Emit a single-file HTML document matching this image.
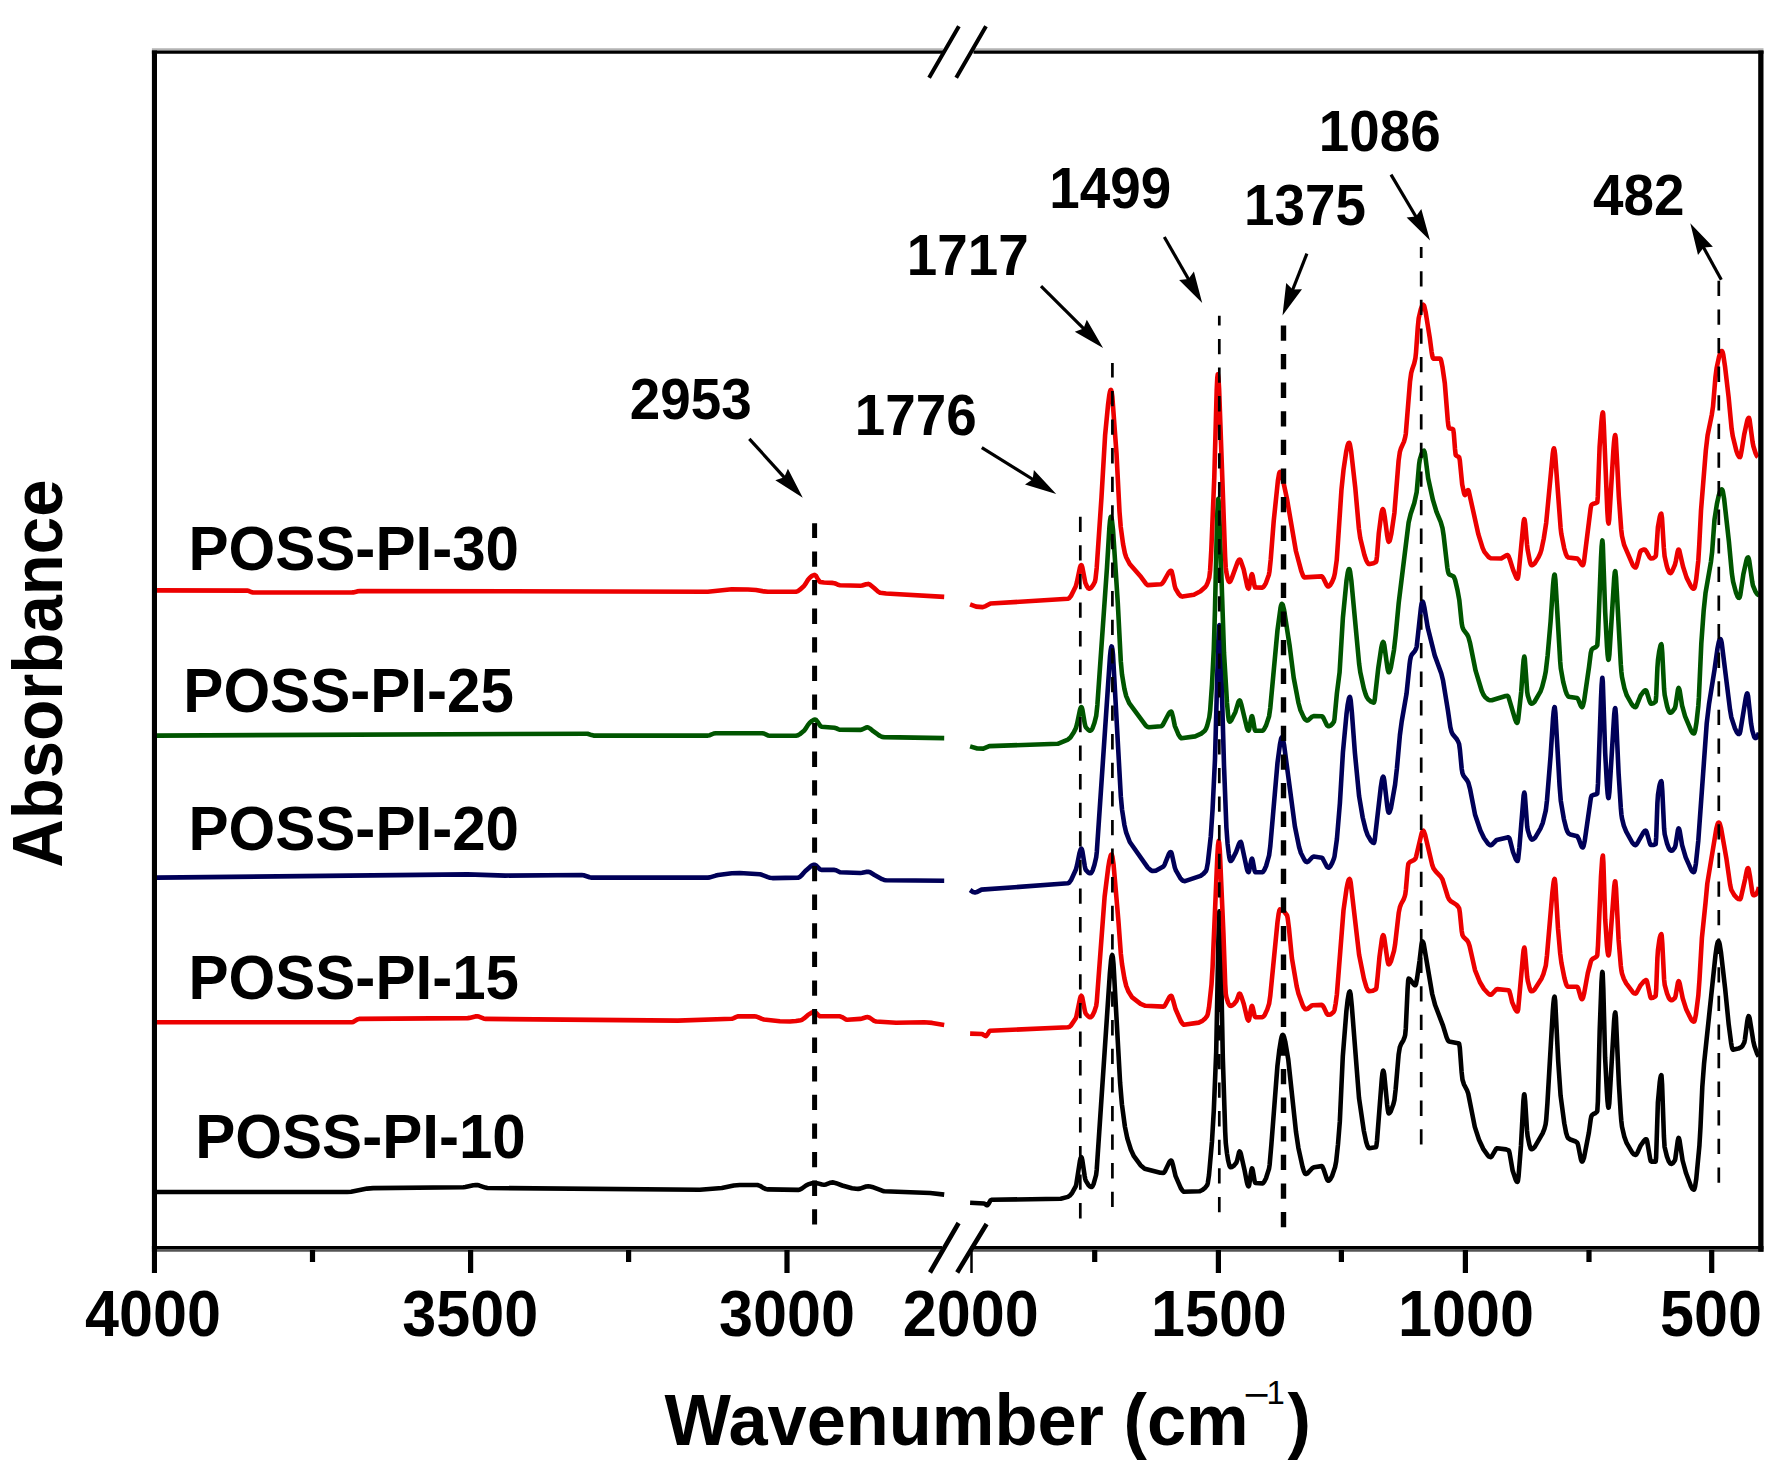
<!DOCTYPE html>
<html lang="en">
<head>
<meta charset="utf-8">
<title>FTIR spectra of POSS-PI films</title>
<style>
html,body{margin:0;padding:0;background:#fff;}
body{width:1781px;height:1477px;overflow:hidden;}
svg{display:block;}
</style>
</head>
<body>
<svg width="1781" height="1477" viewBox="0 0 1781 1477">
<rect x="0" y="0" width="1781" height="1477" fill="#ffffff"/>
<g id="curves">
<polyline points="156.8,1192.0 347.1,1192.0 351.1,1191.7 367.2,1188.6 373.2,1188.1 463.3,1187.3 465.3,1187.0 473.4,1185.2 475.8,1185.0 477.4,1185.1 479.4,1185.6 485.4,1187.6 487.4,1188.0 699.8,1189.8 721.8,1188.0 733.8,1185.5 739.8,1185.0 757.0,1185.0 757.9,1185.1 759.9,1185.8 763.9,1188.2 765.9,1189.1 767.9,1189.4 798.3,1189.9 799.9,1189.6 801.9,1188.5 806.0,1185.5 808.0,1184.4 812.0,1183.3 814.0,1183.0 816.0,1183.0 818.0,1183.4 822.0,1184.5 824.1,1184.8 826.0,1184.4 830.0,1182.8 832.0,1182.4 834.0,1182.6 836.0,1183.2 842.2,1185.5 852.0,1188.2 856.0,1188.8 858.0,1188.9 860.1,1188.6 866.1,1186.5 868.1,1186.3 870.1,1186.5 872.1,1186.9 882.1,1190.7 884.1,1191.2 930.2,1193.0 944.2,1194.6" fill="none" stroke="#000000" stroke-width="4.60" stroke-linejoin="round" stroke-linecap="butt"/>
<polyline points="970.1,1202.8 984.0,1203.5 985.1,1204.1 986.3,1205.1 987.0,1205.3 987.5,1205.1 988.7,1203.5 990.5,1200.4 991.4,1199.8 1060.7,1198.8 1067.9,1196.9 1069.7,1195.7 1072.1,1192.9 1075.7,1186.3 1076.3,1184.3 1079.9,1161.0 1080.5,1158.5 1081.1,1157.3 1081.3,1157.2 1081.7,1157.7 1082.3,1160.0 1084.7,1176.2 1085.3,1179.3 1085.9,1180.9 1088.3,1184.8 1090.1,1186.6 1091.4,1187.0 1091.9,1186.8 1092.5,1186.2 1093.7,1183.7 1096.1,1175.0 1096.7,1170.0 1109.9,972.9 1111.1,959.8 1111.7,956.2 1112.3,955.0 1112.9,957.6 1113.5,964.0 1120.1,1082.8 1121.9,1104.2 1124.9,1126.6 1127.3,1138.2 1130.9,1149.7 1133.9,1156.2 1140.5,1165.2 1144.7,1168.7 1160.3,1172.8 1163.3,1172.9 1163.9,1172.7 1165.1,1171.1 1169.4,1162.1 1170.0,1161.2 1170.6,1160.7 1171.2,1160.5 1171.8,1161.2 1173.0,1165.2 1175.6,1176.2 1180.8,1188.1 1182.6,1190.8 1183.8,1191.8 1199.4,1191.3 1202.4,1190.0 1205.4,1187.4 1207.2,1185.1 1207.8,1183.2 1209.0,1175.1 1212.0,1141.2 1213.8,1110.7 1216.2,1052.1 1218.6,929.1 1219.2,912.8 1219.4,911.2 1219.8,914.7 1220.4,933.2 1222.8,1057.2 1225.2,1131.9 1225.8,1143.3 1227.0,1153.5 1228.2,1160.8 1229.4,1165.5 1230.0,1166.8 1230.6,1167.3 1231.8,1167.1 1233.6,1165.9 1236.3,1162.8 1237.2,1160.2 1239.0,1152.5 1239.6,1151.5 1240.2,1152.0 1240.8,1153.6 1244.4,1169.4 1246.8,1181.9 1247.4,1184.2 1248.0,1185.8 1248.6,1186.4 1249.2,1185.0 1251.0,1172.3 1251.6,1169.2 1252.0,1168.4 1252.2,1168.5 1252.8,1170.4 1254.6,1181.1 1255.3,1183.0 1262.4,1183.4 1263.0,1183.1 1264.2,1181.8 1266.0,1178.2 1269.0,1168.8 1269.6,1165.0 1271.4,1144.4 1277.4,1066.3 1279.2,1050.9 1281.0,1039.7 1281.6,1037.0 1282.2,1035.3 1282.8,1034.8 1283.4,1035.4 1284.0,1036.8 1285.2,1041.5 1288.2,1059.1 1296.0,1131.9 1298.4,1147.9 1302.6,1167.0 1303.8,1170.9 1305.0,1173.4 1305.6,1173.9 1306.2,1174.0 1307.4,1173.4 1312.2,1168.2 1314.0,1167.2 1321.8,1166.1 1322.4,1166.7 1323.6,1169.2 1326.6,1178.3 1327.2,1179.6 1327.8,1180.5 1328.4,1180.7 1329.0,1180.5 1330.2,1179.4 1332.0,1176.2 1335.1,1167.0 1336.2,1161.2 1338.0,1144.3 1339.8,1121.9 1342.8,1056.4 1346.4,1011.0 1347.6,1000.4 1348.8,993.5 1349.4,991.8 1349.8,991.5 1350.0,991.7 1350.6,994.1 1351.8,1005.9 1359.0,1097.9 1363.8,1130.6 1366.2,1142.0 1367.4,1145.7 1368.0,1147.0 1368.6,1147.9 1369.3,1148.2 1375.2,1147.3 1376.0,1147.0 1376.4,1145.8 1377.0,1141.0 1381.8,1078.9 1382.4,1073.6 1383.0,1070.9 1383.2,1070.7 1383.6,1071.3 1384.2,1074.3 1387.2,1105.0 1387.8,1109.8 1388.4,1112.8 1388.8,1113.4 1389.6,1113.0 1390.8,1111.3 1393.2,1104.8 1394.4,1100.2 1395.6,1089.7 1398.6,1054.7 1399.8,1047.4 1401.0,1044.2 1403.4,1040.2 1404.6,1037.1 1405.2,1034.8 1405.8,1028.2 1407.6,989.2 1408.2,980.5 1408.6,978.6 1409.4,978.9 1411.2,980.9 1413.6,984.2 1414.8,985.2 1415.4,985.3 1416.0,984.0 1417.2,977.5 1419.6,960.5 1421.4,945.3 1422.0,942.3 1422.5,941.5 1423.2,942.4 1423.8,944.3 1432.2,994.0 1435.2,1005.3 1443.0,1025.6 1446.6,1037.4 1447.8,1040.1 1448.4,1041.0 1449.0,1041.5 1458.0,1043.2 1459.1,1043.7 1459.8,1047.6 1461.6,1071.9 1462.5,1079.7 1464.0,1084.5 1467.0,1090.3 1468.2,1093.5 1474.8,1126.9 1479.0,1139.8 1483.2,1148.8 1488.0,1155.6 1489.2,1156.7 1490.6,1157.2 1491.0,1157.1 1491.6,1156.6 1495.8,1149.3 1496.4,1148.6 1497.3,1148.2 1506.0,1149.4 1508.6,1150.4 1509.0,1151.0 1509.6,1153.1 1512.6,1170.5 1515.6,1179.5 1516.2,1180.7 1516.8,1181.6 1517.5,1181.9 1518.0,1180.4 1518.6,1175.9 1521.0,1145.2 1523.4,1100.7 1524.0,1094.9 1524.3,1094.3 1524.6,1095.4 1525.2,1101.4 1527.0,1130.5 1527.6,1136.0 1529.4,1144.8 1530.6,1148.4 1531.2,1149.2 1531.8,1149.3 1533.0,1148.7 1534.8,1146.8 1542.6,1133.4 1544.4,1128.8 1545.6,1124.4 1546.2,1119.9 1547.4,1103.5 1552.8,1011.1 1553.4,1003.4 1554.0,998.3 1554.6,996.6 1555.2,1000.8 1558.2,1061.1 1560.6,1095.8 1564.3,1123.4 1566.1,1132.7 1567.3,1136.6 1568.1,1138.0 1570.3,1139.5 1575.7,1141.5 1577.1,1142.6 1577.5,1143.2 1578.1,1145.1 1580.5,1157.4 1581.1,1159.9 1581.7,1161.4 1582.0,1161.6 1582.3,1161.5 1582.9,1160.8 1584.1,1157.4 1588.9,1132.5 1590.7,1119.4 1591.3,1116.5 1591.9,1115.2 1593.1,1114.2 1595.5,1113.1 1596.7,1112.1 1597.3,1111.1 1597.9,1101.1 1599.7,1030.4 1601.5,981.9 1602.1,973.3 1602.4,971.9 1602.7,973.7 1603.3,988.5 1605.1,1057.2 1606.9,1092.2 1607.5,1101.0 1608.1,1106.4 1608.5,1107.7 1608.7,1107.5 1609.3,1103.1 1614.1,1021.0 1614.7,1014.4 1615.3,1012.4 1615.9,1017.3 1618.9,1084.1 1620.7,1113.3 1621.3,1120.8 1622.0,1126.8 1624.3,1136.6 1626.7,1143.2 1632.1,1152.4 1633.9,1154.3 1635.4,1154.9 1636.3,1154.4 1637.5,1152.5 1640.5,1145.8 1644.1,1140.6 1645.3,1139.5 1646.2,1139.2 1646.5,1139.4 1647.1,1141.0 1650.1,1158.7 1650.7,1160.9 1651.3,1161.6 1655.7,1161.6 1656.1,1157.7 1657.9,1102.1 1659.7,1082.6 1660.3,1078.3 1660.9,1075.8 1661.3,1075.2 1661.5,1075.7 1662.1,1084.5 1663.9,1136.0 1664.6,1147.0 1666.9,1156.4 1668.7,1161.2 1669.9,1163.0 1670.5,1163.6 1671.7,1163.9 1672.9,1163.1 1674.8,1160.5 1675.3,1158.9 1677.7,1141.0 1678.3,1138.4 1678.6,1138.0 1678.9,1138.2 1679.5,1140.1 1682.6,1160.5 1686.1,1173.3 1690.9,1186.1 1692.1,1188.3 1692.7,1189.1 1693.3,1189.6 1693.9,1189.7 1694.5,1188.7 1695.1,1186.5 1696.3,1178.6 1699.4,1145.8 1700.5,1127.0 1702.3,1087.2 1704.1,1063.2 1715.5,955.0 1716.7,946.6 1717.3,943.7 1717.9,941.8 1718.5,941.3 1719.1,942.2 1719.7,944.4 1720.9,951.8 1725.1,988.3 1728.7,1024.4 1731.1,1042.8 1731.7,1046.2 1732.3,1048.6 1733.0,1049.7 1738.3,1048.6 1741.3,1047.2 1742.5,1045.9 1744.3,1042.5 1744.9,1039.6 1747.3,1021.1 1747.9,1017.8 1748.6,1016.2 1749.1,1016.7 1749.7,1018.5 1753.3,1041.2 1754.5,1046.3 1756.9,1053.1 1758.1,1055.5 1758.7,1056.4" fill="none" stroke="#000000" stroke-width="4.60" stroke-linejoin="round" stroke-linecap="butt"/>
<polyline points="156.8,1022.3 351.5,1022.3 353.1,1021.9 357.2,1019.5 359.2,1018.9 467.7,1018.1 469.4,1017.9 475.4,1016.4 477.4,1016.3 479.4,1016.8 483.4,1018.4 485.8,1018.9 677.7,1020.6 731.8,1018.8 733.8,1018.1 735.8,1017.2 737.8,1016.4 754.4,1016.3 755.9,1016.5 757.9,1017.1 761.9,1018.9 763.9,1019.5 779.9,1021.2 789.9,1021.5 795.9,1021.0 800.9,1020.2 801.9,1019.8 804.0,1018.4 808.0,1014.9 812.0,1012.5 814.3,1011.9 816.0,1012.8 818.0,1014.9 820.0,1016.3 840.0,1016.3 842.0,1017.1 846.0,1019.4 847.4,1019.7 860.3,1018.9 862.1,1018.5 866.1,1017.3 867.5,1017.1 868.1,1017.2 870.1,1018.0 874.1,1020.9 876.1,1021.5 896.1,1022.7 924.2,1022.3 932.2,1022.9 944.2,1024.9" fill="none" stroke="#ec0000" stroke-width="4.60" stroke-linejoin="round" stroke-linecap="butt"/>
<polyline points="970.1,1033.6 982.1,1034.0 985.1,1035.9 985.8,1036.1 986.3,1035.9 987.5,1034.4 989.3,1031.4 989.9,1030.8 1067.9,1027.3 1069.2,1026.9 1071.0,1025.4 1075.8,1018.2 1076.4,1016.5 1080.0,998.6 1080.6,996.7 1081.3,995.8 1081.8,996.3 1082.4,998.1 1084.8,1010.6 1085.4,1012.9 1086.0,1014.0 1088.4,1016.5 1089.6,1017.1 1090.8,1017.1 1091.4,1016.8 1092.6,1015.3 1094.4,1011.5 1096.2,1005.9 1096.8,1001.4 1104.6,896.9 1108.2,867.7 1109.4,860.5 1110.6,855.7 1111.2,854.7 1111.5,854.5 1111.8,854.7 1112.4,856.6 1113.6,864.9 1118.4,920.6 1120.8,953.4 1122.0,964.0 1124.4,978.4 1126.2,985.9 1128.6,991.8 1132.2,997.4 1140.6,1003.9 1145.4,1005.8 1163.4,1006.6 1164.0,1006.4 1165.2,1005.0 1169.4,997.1 1170.6,995.9 1171.2,995.8 1171.8,996.5 1173.0,999.9 1175.6,1009.3 1180.8,1021.1 1182.6,1023.8 1183.8,1024.8 1198.8,1022.6 1202.4,1020.9 1205.4,1018.2 1207.2,1015.8 1207.8,1014.0 1209.0,1007.4 1211.5,984.6 1212.6,967.0 1217.4,855.2 1218.0,845.3 1218.7,840.9 1219.2,843.1 1219.8,850.3 1223.4,932.9 1225.2,983.8 1225.8,993.8 1226.4,997.2 1228.2,1003.0 1229.4,1005.2 1230.0,1005.7 1230.6,1005.9 1231.8,1005.6 1234.2,1003.8 1236.6,1000.8 1239.0,994.1 1239.6,993.6 1240.2,994.0 1241.4,996.6 1243.8,1004.0 1246.8,1016.8 1247.4,1018.8 1248.0,1020.1 1248.6,1020.5 1249.2,1019.1 1251.0,1008.7 1251.6,1006.3 1252.0,1005.9 1252.2,1006.1 1252.8,1007.7 1254.6,1016.0 1255.3,1017.2 1262.4,1017.2 1263.6,1016.4 1264.8,1014.8 1267.3,1009.4 1269.1,1003.8 1270.3,995.6 1277.5,922.0 1278.7,913.4 1279.3,910.7 1280.0,909.4 1281.7,909.8 1283.5,910.9 1286.8,915.0 1287.1,915.6 1287.7,918.2 1288.9,927.7 1291.9,958.2 1296.7,986.4 1298.5,993.8 1302.7,1005.3 1303.9,1007.6 1305.1,1009.0 1305.9,1009.3 1307.5,1008.8 1312.3,1005.2 1321.9,1004.9 1322.5,1005.3 1323.7,1007.1 1326.7,1013.4 1327.3,1014.3 1327.9,1014.8 1329.1,1014.8 1330.9,1014.2 1333.3,1012.2 1333.9,1011.5 1334.5,1010.0 1335.7,1003.3 1336.9,994.3 1343.5,910.3 1346.5,889.0 1347.7,883.0 1348.3,880.8 1348.9,879.5 1349.5,879.0 1350.1,879.9 1350.7,882.5 1359.1,954.8 1363.9,978.6 1366.3,986.9 1367.5,989.6 1368.1,990.5 1368.7,991.1 1369.3,991.3 1372.9,990.7 1376.0,989.1 1376.5,987.4 1377.7,976.0 1379.5,956.8 1381.9,939.1 1382.5,936.4 1383.2,935.2 1383.7,935.9 1384.3,938.2 1387.3,959.3 1387.9,962.4 1388.5,964.2 1388.8,964.4 1389.1,964.3 1389.7,963.8 1390.9,961.5 1394.0,950.9 1395.1,944.4 1398.7,912.9 1399.9,907.1 1401.1,904.0 1403.5,899.7 1404.7,896.5 1405.3,894.2 1405.9,889.5 1407.7,868.5 1408.3,864.1 1408.6,863.3 1410.1,861.8 1413.7,860.2 1415.3,858.8 1416.1,856.8 1421.5,833.8 1422.1,832.1 1422.7,831.0 1423.3,830.7 1423.9,831.4 1425.1,834.8 1432.3,865.2 1433.5,868.3 1435.9,871.7 1440.7,876.6 1442.5,879.5 1447.9,897.0 1449.1,899.4 1450.9,901.3 1456.3,904.6 1458.1,906.6 1459.1,908.2 1459.3,909.0 1459.9,912.9 1461.7,931.1 1462.5,935.2 1463.6,937.1 1467.2,940.5 1468.4,942.4 1469.6,945.9 1475.0,970.1 1479.8,982.0 1484.0,989.0 1488.2,993.5 1489.4,994.4 1490.6,994.7 1491.8,994.3 1496.0,989.7 1497.3,989.1 1508.6,990.2 1509.2,990.8 1510.4,994.7 1512.2,1002.4 1515.2,1009.2 1516.4,1010.9 1517.0,1011.4 1517.6,1011.5 1518.2,1009.3 1523.0,955.5 1523.6,950.1 1524.3,947.5 1524.8,949.1 1527.2,977.2 1527.8,980.9 1529.6,988.0 1530.2,989.7 1530.8,990.8 1531.5,991.3 1532.6,991.1 1534.4,989.7 1541.6,978.4 1543.4,974.2 1545.8,965.7 1547.0,955.3 1552.4,892.2 1553.6,882.2 1554.2,879.6 1554.6,879.0 1554.8,879.3 1555.4,884.2 1558.0,928.4 1560.2,953.5 1561.4,962.7 1564.4,978.0 1566.2,984.3 1566.8,985.6 1567.4,986.4 1568.1,986.8 1577.1,986.8 1577.6,987.2 1578.2,988.4 1580.6,996.8 1581.2,998.3 1581.8,999.1 1582.0,999.2 1582.4,999.0 1583.0,997.8 1584.2,993.2 1587.8,973.2 1590.8,961.6 1591.6,959.9 1592.6,958.9 1595.6,957.3 1596.8,956.2 1597.3,955.4 1598.0,945.3 1601.0,876.3 1602.2,858.8 1602.9,855.5 1603.4,862.7 1605.2,919.2 1607.0,946.0 1607.6,951.9 1608.2,955.0 1608.5,955.4 1608.8,954.7 1609.4,950.5 1614.2,886.6 1614.8,882.2 1615.2,881.3 1615.4,881.9 1616.0,888.1 1618.6,939.7 1620.8,965.7 1621.4,970.5 1622.0,973.5 1623.8,978.8 1626.2,983.4 1632.8,992.2 1634.0,993.2 1635.4,993.6 1635.8,993.5 1636.4,993.0 1640.6,985.2 1644.2,981.1 1645.4,980.3 1646.2,980.1 1646.6,980.5 1647.2,982.1 1650.2,996.4 1650.8,997.8 1651.2,998.1 1653.2,997.7 1655.0,996.5 1655.7,995.8 1656.2,989.3 1657.4,958.1 1658.0,949.7 1659.2,941.0 1659.8,937.7 1660.5,935.4 1661.1,934.2 1661.3,934.1 1661.7,935.5 1662.3,943.4 1664.1,979.2 1664.7,984.8 1667.1,993.7 1668.9,998.0 1670.1,999.6 1670.7,1000.1 1671.4,1000.3 1672.5,1000.0 1674.9,998.0 1675.5,996.3 1677.9,982.7 1678.5,981.3 1678.6,981.2 1679.1,981.7 1679.7,983.4 1682.7,998.3 1686.3,1009.6 1691.1,1019.3 1692.3,1020.9 1693.5,1021.7 1694.1,1021.6 1694.7,1020.4 1695.9,1014.8 1698.3,995.8 1699.5,979.3 1701.9,938.0 1705.5,903.0 1707.3,883.5 1716.3,828.9 1717.5,824.3 1718.1,823.0 1718.7,822.5 1719.3,822.9 1719.9,824.1 1721.1,828.4 1726.5,859.2 1730.1,884.5 1731.3,889.9 1734.3,895.1 1736.7,897.8 1738.5,899.0 1739.9,899.3 1740.3,899.0 1740.9,897.8 1745.1,879.2 1746.9,870.3 1747.5,868.6 1748.1,868.1 1748.7,869.3 1749.9,875.8 1752.3,892.3 1752.9,894.5 1753.5,895.2 1754.7,895.1 1755.9,894.4 1757.1,892.7 1758.3,889.5 1758.9,887.1" fill="none" stroke="#ec0000" stroke-width="4.60" stroke-linejoin="round" stroke-linecap="butt"/>
<polyline points="156.8,877.6 467.4,874.4 505.4,875.6 581.6,875.0 583.6,875.3 589.6,877.3 591.7,877.6 707.9,877.6 709.8,877.4 715.8,875.6 718.2,875.0 731.8,873.3 739.8,873.0 759.9,874.3 761.9,874.8 767.9,877.1 769.9,877.7 772.5,878.1 798.3,877.6 799.9,876.9 801.9,875.0 804.0,872.5 806.0,870.4 810.0,866.9 812.0,865.4 814.0,864.7 814.3,864.7 816.0,865.4 820.0,869.3 821.5,869.9 834.4,869.9 836.0,870.3 840.0,872.3 860.3,873.0 862.1,872.8 866.1,871.9 868.1,871.7 870.1,872.3 874.5,875.0 882.1,879.2 884.1,879.9 886.1,880.2 944.2,880.7" fill="none" stroke="#000058" stroke-width="4.60" stroke-linejoin="round" stroke-linecap="butt"/>
<polyline points="970.1,890.0 973.1,892.1 975.0,892.5 976.7,892.1 981.5,889.6 1067.9,883.3 1069.2,882.6 1071.0,880.2 1075.8,869.8 1077.0,865.4 1079.4,853.5 1080.6,849.4 1081.3,848.6 1081.8,849.2 1082.4,851.3 1084.8,866.2 1085.4,868.9 1086.0,870.1 1088.4,872.6 1089.6,873.2 1090.3,873.3 1090.8,873.2 1091.4,872.7 1092.6,870.5 1094.4,865.0 1096.2,857.2 1096.8,852.0 1110.0,656.5 1110.6,650.7 1111.2,647.3 1111.6,646.5 1111.8,646.6 1112.4,649.3 1113.0,654.8 1120.8,796.2 1122.0,809.3 1124.4,824.9 1126.2,832.7 1129.8,842.0 1147.8,867.6 1150.8,870.3 1152.6,871.0 1156.2,870.6 1163.4,866.5 1164.6,864.7 1168.8,854.1 1170.0,852.3 1170.7,852.0 1171.2,852.4 1171.8,853.9 1174.8,867.5 1176.0,870.7 1180.2,877.9 1182.0,880.0 1183.2,880.8 1185.0,881.2 1200.6,875.8 1203.6,873.6 1206.0,870.9 1206.6,869.3 1207.8,862.9 1210.8,836.2 1212.6,808.9 1215.0,759.2 1218.0,649.2 1218.6,633.4 1219.2,625.6 1219.4,625.1 1219.8,627.6 1220.4,638.5 1224.0,765.5 1226.4,827.6 1227.6,843.9 1228.8,854.0 1229.4,857.8 1230.0,860.2 1230.6,861.0 1231.2,860.8 1232.4,859.3 1236.0,852.1 1239.0,843.9 1239.6,842.8 1240.2,842.1 1240.8,841.9 1241.4,843.2 1246.8,868.5 1247.4,870.5 1248.0,871.8 1248.6,872.2 1249.2,870.9 1251.0,861.3 1251.6,859.1 1252.0,858.7 1252.2,858.9 1252.8,860.9 1254.6,870.8 1255.3,872.2 1262.4,872.1 1263.0,871.8 1264.2,870.2 1266.1,866.0 1269.1,855.4 1270.3,846.1 1277.5,762.7 1279.9,744.8 1281.1,738.7 1281.8,737.4 1282.3,737.8 1282.9,739.3 1284.1,745.0 1294.9,826.5 1299.1,847.0 1300.9,853.0 1304.5,860.0 1305.7,861.5 1306.3,861.9 1307.0,862.1 1308.1,861.7 1312.3,857.2 1313.7,856.5 1321.9,857.7 1322.5,858.2 1326.7,866.3 1327.3,867.1 1327.9,867.6 1328.5,867.7 1329.1,867.5 1330.3,866.4 1332.1,863.2 1333.9,858.7 1334.5,856.5 1336.9,839.1 1339.9,803.1 1342.9,752.6 1346.5,714.1 1347.7,704.6 1348.9,698.5 1349.5,697.2 1349.8,697.0 1350.1,697.4 1350.7,700.3 1351.9,712.8 1354.9,752.9 1359.1,796.2 1362.7,817.5 1365.7,829.8 1367.5,834.8 1371.1,841.0 1372.3,842.3 1373.8,843.0 1374.1,842.7 1374.7,840.2 1380.7,787.9 1381.9,780.2 1382.5,777.8 1383.2,776.7 1383.7,777.5 1384.3,780.4 1387.3,806.4 1387.9,810.3 1388.5,812.4 1388.8,812.7 1389.1,812.6 1389.7,811.8 1390.9,808.3 1395.1,784.5 1396.9,768.5 1399.9,735.1 1401.7,721.5 1406.5,693.9 1409.5,664.9 1410.1,660.3 1410.9,656.6 1411.9,654.4 1414.9,650.9 1416.1,648.6 1416.7,646.6 1420.9,608.1 1421.5,604.2 1422.1,601.9 1422.5,601.5 1422.7,601.6 1423.3,602.8 1424.5,608.1 1427.7,627.4 1434.7,655.4 1441.3,673.5 1443.1,680.8 1447.9,710.3 1450.3,727.0 1451.5,731.7 1452.7,734.2 1456.9,739.3 1458.1,741.5 1459.1,744.0 1459.9,749.6 1461.7,768.8 1462.5,773.4 1463.6,775.8 1467.2,780.5 1468.4,782.9 1470.2,789.7 1475.0,814.4 1480.4,830.6 1484.0,838.0 1488.2,843.8 1489.4,844.8 1490.6,845.2 1491.8,844.8 1496.6,840.0 1507.4,837.4 1508.6,837.4 1509.2,837.9 1509.8,839.4 1513.0,852.0 1515.8,859.1 1516.4,860.1 1517.0,860.8 1517.6,861.0 1518.2,858.8 1519.4,847.4 1523.6,795.6 1524.3,792.5 1524.8,794.4 1527.2,826.6 1527.8,830.2 1529.6,836.1 1530.8,838.6 1531.4,839.3 1532.1,839.6 1533.2,839.3 1535.0,837.8 1540.4,828.7 1542.8,822.8 1545.8,810.4 1547.0,800.3 1550.6,755.7 1553.0,718.8 1553.6,712.1 1554.2,708.0 1554.6,707.1 1554.8,707.5 1555.4,712.7 1559.6,786.1 1560.8,800.8 1563.8,818.7 1566.2,828.4 1567.4,831.6 1568.6,833.5 1570.4,834.5 1576.4,835.9 1577.1,836.2 1577.6,836.7 1578.8,839.1 1581.2,845.7 1581.8,846.8 1582.4,847.4 1582.7,847.5 1583.0,847.3 1583.6,846.0 1584.8,840.4 1590.8,798.2 1591.6,795.8 1593.2,795.0 1596.2,794.3 1597.3,793.6 1598.0,783.4 1601.0,698.7 1601.6,685.4 1602.2,678.3 1602.4,677.9 1602.8,681.6 1605.2,753.2 1607.0,785.9 1607.6,793.4 1608.2,797.6 1608.5,798.1 1608.8,797.3 1609.4,792.0 1614.2,714.4 1614.8,709.2 1615.2,708.2 1615.4,708.8 1616.0,715.5 1618.6,773.4 1620.8,807.7 1621.4,814.3 1622.0,818.4 1623.8,825.6 1626.2,831.7 1632.2,842.5 1634.0,844.6 1635.4,845.2 1635.8,845.1 1636.4,844.6 1638.2,841.7 1643.6,832.2 1644.8,830.9 1645.6,830.6 1646.0,830.9 1646.6,831.9 1649.6,842.4 1650.2,844.1 1650.8,845.0 1653.2,845.0 1655.7,844.1 1656.2,837.2 1657.4,803.2 1658.0,794.7 1659.2,787.0 1659.8,784.2 1660.5,782.3 1661.1,781.3 1661.3,781.2 1661.7,782.7 1662.3,790.9 1664.1,828.3 1664.7,834.2 1667.1,843.7 1668.9,848.3 1670.1,850.1 1670.7,850.6 1671.4,850.8 1672.5,850.4 1674.3,848.3 1674.9,847.4 1675.5,845.3 1677.9,830.1 1678.5,828.5 1678.6,828.4 1679.1,828.9 1679.7,830.9 1682.1,845.1 1685.7,857.4 1691.1,869.6 1692.3,871.3 1692.9,871.9 1693.8,872.2 1694.1,872.0 1694.7,870.5 1695.9,863.6 1698.3,840.7 1706.7,723.6 1709.1,703.6 1714.5,669.8 1717.5,648.4 1718.7,642.4 1719.3,640.4 1719.9,639.2 1720.3,639.0 1720.5,639.1 1721.1,640.3 1721.7,642.8 1730.1,710.2 1731.3,717.2 1734.9,728.3 1736.7,732.0 1737.9,733.6 1738.5,734.0 1739.1,734.1 1739.7,733.4 1740.3,731.3 1745.7,698.4 1746.3,695.4 1746.9,693.7 1747.2,693.4 1747.5,693.7 1748.1,696.1 1751.1,723.7 1752.3,730.7 1754.1,736.6 1754.7,737.7 1755.3,738.1 1755.9,738.0 1756.5,737.7 1757.1,737.0 1758.3,734.6 1758.9,732.7" fill="none" stroke="#000058" stroke-width="4.60" stroke-linejoin="round" stroke-linecap="butt"/>
<polyline points="156.8,735.6 586.5,733.7 587.6,733.8 591.6,735.1 593.6,735.6 707.9,735.6 709.8,735.2 713.8,733.5 715.8,733.2 762.1,733.2 763.9,733.5 767.9,735.4 769.9,735.8 795.9,735.8 797.9,735.3 799.9,734.1 804.0,730.8 806.0,728.1 808.0,724.9 810.0,722.5 812.0,720.9 814.0,719.7 815.1,719.5 816.0,719.9 818.0,722.5 820.0,725.6 821.5,726.8 834.4,727.8 836.0,728.2 838.0,729.1 840.0,729.8 860.3,729.9 862.1,729.5 866.1,727.6 867.5,727.3 868.1,727.4 870.1,728.6 873.2,731.2 878.1,734.7 880.1,736.0 882.1,736.9 884.1,737.1 944.2,738.1" fill="none" stroke="#005500" stroke-width="4.60" stroke-linejoin="round" stroke-linecap="butt"/>
<polyline points="970.1,746.4 977.3,748.5 983.3,748.6 989.3,746.1 1057.7,743.8 1067.9,739.6 1070.4,737.4 1074.0,731.9 1075.8,728.3 1077.0,724.1 1080.0,709.7 1080.6,707.9 1081.3,707.1 1081.8,707.6 1082.4,709.7 1084.8,723.8 1085.4,726.3 1086.0,727.5 1088.4,730.0 1089.6,730.6 1090.3,730.7 1090.8,730.6 1091.4,730.1 1092.6,728.1 1094.4,723.0 1096.2,715.9 1097.4,704.7 1107.0,567.3 1109.4,527.5 1110.0,521.0 1110.6,517.4 1110.9,516.8 1111.2,517.1 1111.8,519.3 1113.0,529.7 1117.8,603.1 1120.8,661.4 1122.0,674.4 1124.4,688.9 1126.2,696.1 1129.2,703.2 1146.0,725.8 1147.2,726.8 1149.0,727.3 1161.0,726.2 1161.6,726.0 1162.8,724.8 1168.8,713.5 1170.0,712.1 1170.6,711.7 1171.2,711.6 1171.8,712.5 1173.0,717.0 1174.8,725.8 1178.4,734.4 1180.2,737.2 1181.4,738.3 1195.2,736.4 1201.2,733.6 1204.8,730.7 1206.0,728.8 1207.2,725.7 1209.3,717.2 1210.2,710.1 1212.0,684.4 1213.8,649.3 1215.0,608.9 1216.8,530.2 1217.4,510.9 1218.0,500.2 1218.3,498.9 1218.6,500.4 1219.2,510.3 1224.0,653.0 1227.0,702.9 1228.2,716.1 1228.8,720.1 1229.5,721.7 1230.0,721.6 1231.2,720.4 1235.4,711.9 1238.4,702.0 1239.0,700.8 1239.6,700.4 1240.2,701.0 1241.4,704.7 1246.8,727.2 1247.4,729.1 1248.0,730.3 1248.6,730.7 1249.2,729.3 1251.0,718.9 1251.6,716.5 1252.0,716.1 1252.2,716.3 1252.8,718.5 1254.6,729.2 1255.3,730.7 1262.4,730.7 1263.0,730.4 1264.2,729.0 1266.1,725.4 1269.1,716.2 1270.3,707.8 1277.5,630.0 1280.5,608.1 1281.1,605.3 1281.7,603.9 1281.8,603.8 1282.3,604.1 1282.9,605.3 1284.1,610.1 1289.5,644.8 1293.7,677.8 1298.5,703.0 1300.3,709.7 1303.9,717.6 1305.1,719.3 1306.3,720.4 1307.0,720.6 1308.1,720.3 1312.3,716.6 1313.7,716.1 1321.9,716.2 1322.5,716.6 1323.7,718.4 1326.7,724.7 1327.3,725.6 1327.9,726.1 1329.1,726.1 1330.9,725.3 1332.7,723.5 1333.9,721.7 1334.5,718.9 1336.9,693.2 1339.6,672.3 1342.9,617.7 1346.5,580.7 1347.7,572.8 1348.3,570.3 1348.9,569.1 1349.1,569.0 1349.5,569.4 1350.1,571.6 1351.3,580.2 1359.1,663.6 1360.3,672.3 1363.9,688.7 1365.7,694.5 1366.9,697.3 1368.2,699.2 1371.1,701.7 1372.9,702.5 1373.8,702.6 1374.1,702.3 1374.7,699.9 1378.3,667.8 1381.3,647.7 1381.9,644.9 1382.5,642.9 1383.2,642.0 1383.7,642.7 1384.3,645.1 1387.3,667.0 1387.9,670.3 1388.5,672.1 1388.8,672.3 1389.1,672.2 1389.7,671.3 1390.9,667.3 1394.0,649.8 1395.7,634.8 1398.7,603.0 1408.6,522.6 1410.7,513.8 1414.3,503.1 1416.7,491.9 1419.1,464.3 1419.8,459.7 1421.5,454.1 1422.7,451.6 1423.3,450.9 1423.9,450.7 1424.5,451.8 1425.1,454.5 1428.1,478.0 1432.9,499.9 1436.5,511.8 1440.7,521.9 1442.5,528.1 1443.7,535.9 1447.3,567.3 1447.9,570.9 1448.5,573.3 1449.1,574.3 1452.7,576.0 1453.5,576.5 1453.9,577.0 1455.1,579.9 1457.5,590.1 1459.3,600.1 1461.7,623.2 1462.5,627.4 1463.6,629.8 1467.2,634.6 1468.4,637.0 1470.2,643.7 1475.6,670.7 1481.6,690.5 1483.4,694.6 1485.2,697.2 1488.2,699.6 1490.0,700.3 1491.8,700.3 1505.6,696.0 1507.4,695.9 1508.0,696.2 1508.6,697.3 1515.2,719.5 1516.4,722.3 1517.1,722.8 1517.6,722.1 1518.2,719.3 1521.2,692.0 1523.0,666.6 1523.6,659.9 1524.3,656.6 1524.8,658.6 1527.2,691.9 1527.8,695.5 1529.6,701.2 1530.2,702.5 1530.8,703.3 1531.5,703.7 1532.6,703.4 1534.4,702.0 1540.4,691.7 1542.2,686.8 1544.6,677.4 1545.8,671.2 1547.6,655.7 1550.6,621.4 1553.0,586.0 1553.6,579.4 1554.2,575.4 1554.6,574.6 1554.8,575.0 1555.4,579.9 1560.2,661.5 1560.8,668.4 1563.2,681.9 1565.6,691.0 1566.8,694.1 1568.0,696.1 1568.6,696.7 1577.1,698.1 1577.6,698.5 1578.8,700.8 1580.6,705.4 1581.2,706.5 1582.0,707.1 1582.4,706.8 1583.0,705.5 1584.2,700.4 1589.0,667.1 1590.8,652.8 1591.6,649.8 1592.6,648.6 1595.6,647.2 1596.8,646.1 1597.3,645.3 1598.0,635.1 1601.0,558.1 1601.6,546.8 1602.2,540.9 1602.4,540.5 1602.8,544.0 1605.2,612.3 1607.0,646.7 1607.6,654.8 1608.2,659.4 1608.5,659.9 1608.8,659.2 1609.4,654.4 1614.2,577.9 1614.8,572.3 1615.2,571.2 1615.4,571.7 1616.0,577.2 1620.8,664.4 1621.4,672.0 1622.0,677.0 1624.4,688.3 1626.8,695.4 1631.6,704.0 1633.4,706.2 1634.6,707.0 1635.4,707.1 1635.8,706.9 1636.4,706.2 1640.6,695.6 1643.6,691.5 1644.8,690.5 1645.6,690.3 1646.0,690.5 1646.6,691.5 1649.6,701.2 1650.2,702.7 1650.8,703.5 1651.4,703.7 1653.2,703.3 1655.0,702.1 1655.7,701.5 1656.2,695.7 1657.4,667.8 1658.0,659.9 1659.2,651.2 1660.5,645.5 1661.1,644.3 1661.3,644.2 1661.7,645.6 1662.3,653.3 1664.1,689.0 1664.7,695.1 1667.1,706.3 1668.3,710.0 1668.9,711.3 1669.5,712.2 1670.3,712.7 1671.3,712.5 1672.5,711.5 1674.9,708.1 1675.5,705.8 1677.9,689.8 1678.5,688.1 1678.6,688.0 1679.1,688.6 1679.7,690.7 1682.1,705.7 1685.1,716.4 1691.1,730.7 1692.3,732.5 1692.9,733.1 1693.8,733.5 1694.1,733.4 1694.7,732.2 1695.3,729.9 1696.5,722.4 1698.3,706.0 1698.9,697.4 1701.3,643.6 1703.7,610.4 1705.5,593.2 1710.9,562.1 1712.1,552.3 1714.5,519.5 1716.9,504.1 1718.7,495.8 1719.9,491.9 1720.5,490.5 1721.1,489.7 1721.8,489.3 1722.3,489.8 1722.9,491.6 1724.1,498.6 1728.9,541.5 1731.9,573.7 1733.1,581.7 1736.1,593.0 1737.3,596.0 1737.9,597.0 1738.5,597.7 1739.1,597.9 1739.7,597.1 1740.3,594.8 1743.3,574.6 1746.3,560.9 1746.9,558.9 1747.5,557.7 1748.1,557.3 1748.7,558.5 1749.3,561.1 1752.3,582.2 1752.9,585.4 1755.3,591.2 1757.1,594.1 1758.3,595.1 1758.9,595.2" fill="none" stroke="#005500" stroke-width="4.60" stroke-linejoin="round" stroke-linecap="butt"/>
<polyline points="156.8,590.4 247.0,590.6 249.0,591.1 251.0,592.0 253.0,592.5 351.5,592.5 353.1,592.4 357.2,591.4 360.0,591.0 707.8,591.7 731.8,589.2 747.9,589.5 755.9,590.0 763.9,591.4 767.9,591.7 795.9,591.7 797.9,591.1 799.9,589.7 804.0,586.0 806.0,583.1 808.0,579.8 810.0,577.5 812.0,575.9 814.0,575.0 814.6,574.9 816.0,575.9 818.0,579.5 820.0,582.0 824.0,582.5 832.0,582.9 834.4,583.2 836.0,583.7 838.0,584.8 840.0,585.2 860.3,585.7 862.1,585.5 866.1,584.2 868.1,583.9 870.1,584.7 874.1,588.0 878.1,591.6 880.1,592.8 886.1,593.5 944.2,596.9" fill="none" stroke="#ec0000" stroke-width="4.60" stroke-linejoin="round" stroke-linecap="butt"/>
<polyline points="970.1,604.4 976.1,606.6 982.7,607.1 985.7,606.1 990.5,603.5 1067.9,598.8 1069.1,598.2 1070.9,596.1 1075.7,586.5 1076.9,582.2 1079.9,567.8 1080.5,566.0 1081.1,565.2 1081.3,565.1 1081.7,565.5 1082.3,567.2 1085.3,582.8 1087.1,586.7 1088.3,588.3 1089.1,588.7 1090.1,588.5 1091.3,587.6 1093.1,585.2 1094.9,581.7 1095.5,578.9 1096.7,567.9 1101.5,497.2 1105.1,435.3 1108.1,404.2 1109.3,395.1 1109.9,392.0 1110.5,390.2 1110.9,389.9 1111.1,390.1 1111.7,392.2 1112.3,396.5 1116.5,453.5 1119.5,511.6 1120.7,526.8 1123.1,544.3 1124.9,553.3 1126.2,557.3 1129.7,564.0 1141.1,577.1 1145.9,583.7 1147.7,585.1 1161.0,584.2 1162.1,583.6 1163.9,581.2 1168.7,572.5 1169.9,571.2 1170.5,570.8 1171.1,570.7 1171.7,571.5 1172.9,576.4 1174.7,585.9 1175.6,588.7 1178.9,594.2 1180.7,596.0 1182.5,596.6 1193.9,594.7 1200.5,591.3 1205.3,587.0 1206.5,585.2 1207.7,582.6 1209.3,577.5 1210.1,570.5 1211.3,550.2 1214.3,477.2 1216.7,390.1 1217.3,377.6 1217.8,374.2 1217.9,374.4 1218.5,378.9 1219.1,388.7 1225.1,556.3 1225.7,567.2 1226.3,572.0 1227.5,577.8 1228.1,579.9 1228.7,581.3 1229.5,582.0 1229.9,581.8 1230.5,581.1 1231.7,578.4 1237.7,561.9 1238.9,559.8 1239.6,559.5 1240.1,559.8 1240.7,560.7 1243.7,569.6 1247.3,586.4 1247.9,588.0 1248.6,588.7 1249.1,587.7 1250.9,577.5 1251.5,574.8 1252.0,574.1 1252.7,575.8 1254.5,585.8 1255.1,587.5 1262.3,587.6 1262.9,587.4 1264.1,586.2 1265.9,583.1 1268.9,574.7 1269.5,571.3 1270.7,559.7 1273.7,521.3 1277.9,480.7 1279.1,473.6 1279.7,472.1 1280.0,471.9 1280.3,472.0 1280.9,472.8 1282.1,476.1 1286.9,498.4 1295.9,551.0 1301.3,571.2 1303.1,575.8 1303.7,576.8 1304.3,577.4 1321.7,576.4 1322.3,576.7 1323.5,578.5 1326.5,584.8 1327.7,586.3 1328.3,586.5 1328.9,586.3 1330.1,585.3 1331.9,582.3 1333.9,577.5 1334.9,573.2 1336.7,560.3 1337.9,543.0 1341.5,489.2 1343.5,470.0 1346.3,451.2 1347.5,445.7 1348.1,444.0 1348.7,443.0 1349.1,442.8 1349.3,442.9 1349.9,444.3 1351.1,450.8 1355.3,488.1 1358.9,528.5 1360.3,538.3 1364.4,555.0 1366.2,560.2 1367.4,562.5 1368.6,563.9 1369.8,564.1 1373.4,563.3 1376.0,561.9 1376.4,560.9 1377.0,556.2 1378.8,533.3 1381.2,514.8 1381.8,511.6 1382.4,509.6 1382.8,509.1 1383.0,509.2 1383.6,510.5 1384.8,517.2 1387.2,535.7 1387.8,539.1 1388.4,541.2 1388.8,541.7 1389.6,540.9 1390.2,539.1 1391.4,533.5 1394.4,513.0 1398.6,460.7 1399.8,452.2 1401.0,448.2 1404.0,441.6 1405.2,437.2 1405.8,433.8 1410.0,381.8 1411.2,373.0 1412.4,368.7 1414.2,363.6 1415.4,358.3 1416.0,352.8 1417.8,327.2 1418.7,318.2 1420.8,309.3 1422.0,306.0 1422.6,305.1 1423.2,304.7 1423.8,305.2 1424.4,306.7 1425.6,311.9 1429.8,338.0 1431.6,351.8 1432.2,355.4 1432.8,357.8 1433.4,358.6 1440.0,358.6 1440.6,359.1 1441.2,360.8 1442.4,366.7 1444.8,383.1 1447.8,420.8 1448.4,425.9 1449.0,428.2 1452.6,429.1 1453.2,429.5 1453.8,433.4 1455.0,448.9 1455.6,454.4 1455.8,455.2 1456.8,456.0 1458.6,456.9 1459.2,457.5 1459.8,460.3 1462.2,484.5 1464.0,493.1 1464.6,494.6 1465.0,495.0 1465.8,494.2 1467.6,490.3 1468.0,490.0 1468.2,490.1 1468.8,491.2 1478.4,534.4 1482.6,547.9 1484.4,551.9 1488.6,557.0 1490.4,558.2 1501.2,558.5 1506.6,555.2 1507.4,555.1 1507.8,555.2 1508.4,555.9 1509.6,558.8 1513.2,570.1 1516.2,577.4 1516.8,578.3 1517.5,578.7 1518.0,577.7 1518.6,573.9 1523.4,523.1 1524.0,519.7 1524.3,519.2 1524.6,519.7 1525.2,523.5 1527.0,544.3 1527.6,549.5 1530.0,561.9 1530.6,563.9 1531.2,565.0 1531.8,565.2 1533.0,564.8 1534.8,563.2 1538.4,557.4 1540.2,553.6 1541.4,549.9 1543.8,538.4 1546.2,522.8 1552.8,453.3 1553.4,449.6 1554.0,448.4 1554.6,450.6 1555.2,455.6 1560.6,527.7 1561.3,533.8 1564.2,548.3 1566.0,554.3 1567.2,556.7 1568.4,557.5 1577.4,558.6 1578.6,559.8 1581.6,564.5 1582.2,565.0 1582.8,565.2 1583.4,564.2 1584.0,561.7 1590.6,508.6 1591.2,505.6 1591.8,504.5 1593.6,503.7 1596.0,503.1 1597.3,502.3 1597.8,496.7 1599.6,447.2 1601.4,421.9 1602.0,416.2 1602.6,413.0 1602.9,412.5 1603.2,414.0 1603.8,424.9 1607.4,512.4 1608.0,521.0 1608.6,523.6 1609.2,519.6 1613.4,449.9 1614.0,442.4 1614.6,437.1 1615.2,435.0 1615.8,438.4 1617.0,459.9 1618.8,496.1 1621.2,529.5 1622.0,536.0 1624.2,545.2 1632.6,564.7 1633.8,566.5 1635.0,567.4 1635.6,567.5 1636.2,566.7 1637.4,563.0 1639.8,553.3 1640.4,551.6 1641.1,550.6 1643.4,549.6 1644.6,549.5 1645.2,549.8 1646.4,551.4 1649.4,556.9 1650.6,558.3 1651.2,558.5 1653.0,558.2 1654.8,557.1 1655.7,556.2 1656.0,554.8 1657.9,527.1 1659.6,517.7 1660.2,515.4 1660.8,514.0 1661.3,513.6 1662.0,517.8 1663.8,547.4 1664.6,556.2 1666.8,566.0 1668.0,569.9 1669.2,572.3 1669.8,572.9 1670.4,573.1 1671.0,572.8 1672.2,571.2 1674.8,565.2 1675.8,561.2 1677.6,551.7 1678.2,549.9 1678.6,549.5 1678.8,549.6 1679.4,550.7 1683.0,566.5 1686.6,577.6 1690.8,586.0 1692.0,587.7 1693.2,588.7 1693.8,588.8 1694.4,588.1 1695.0,586.2 1696.2,579.4 1698.3,560.7 1699.2,546.0 1701.0,510.6 1705.8,450.7 1707.6,435.2 1711.8,414.7 1713.0,406.7 1715.4,377.6 1716.6,368.2 1719.0,356.9 1720.2,353.1 1720.8,351.8 1721.4,351.1 1722.0,351.1 1722.6,352.2 1723.2,354.4 1725.0,366.3 1728.6,397.0 1731.6,428.7 1732.8,436.3 1736.4,451.0 1737.6,454.3 1738.8,456.4 1739.4,457.0 1740.0,457.1 1740.6,455.9 1741.8,449.5 1744.2,434.5 1747.2,420.8 1747.8,419.1 1748.4,418.0 1748.8,417.8 1749.0,417.9 1749.6,419.7 1752.6,442.2 1753.4,446.3 1755.6,453.2 1756.8,455.8 1757.4,456.6 1758.0,457.1" fill="none" stroke="#ec0000" stroke-width="4.60" stroke-linejoin="round" stroke-linecap="butt"/>
</g>
<g id="reflines">
<line x1="814.6" y1="1224.5" x2="814.6" y2="523.2" stroke="#000" stroke-width="5.0" stroke-dasharray="15.3 13.3"/>
<line x1="1080.3" y1="1218.4" x2="1080.3" y2="516.8" stroke="#000" stroke-width="2.7" stroke-dasharray="15.3 13.3"/>
<line x1="1112.4" y1="1207.0" x2="1112.4" y2="363.0" stroke="#000" stroke-width="2.7" stroke-dasharray="15.3 13.3"/>
<line x1="1219.3" y1="1212.2" x2="1219.3" y2="315.8" stroke="#000" stroke-width="2.7" stroke-dasharray="15.3 13.3"/>
<line x1="1283.5" y1="1227.3" x2="1283.5" y2="318.0" stroke="#000" stroke-width="5.4" stroke-dasharray="15.3 13.3"/>
<line x1="1421.2" y1="1144.5" x2="1421.2" y2="247.1" stroke="#000" stroke-width="2.7" stroke-dasharray="15.3 13.3"/>
<line x1="1718.8" y1="1182.7" x2="1718.8" y2="279.5" stroke="#000" stroke-width="2.7" stroke-dasharray="15.3 13.3"/>
</g>
<g id="frame" stroke="#000" fill="none">
<path d="M151.9 49.45H943.3M973.5 49.45H1763.5" stroke="#b4b4b4" stroke-width="2.3"/>
<path d="M151.9 52.15H943.3M973.5 52.15H1763.5" stroke-width="3.1"/>
<path d="M151.9 1250.45H942M972 1250.45H1763.5" stroke="#555" stroke-width="2.5"/>
<path d="M151.9 1247.65H942M972 1247.65H1763.5" stroke-width="3.1"/>
<path d="M154.45 50.6V1273.1" stroke-width="5.1"/>
<path d="M1760.85 50.6V1251.7" stroke-width="5.3"/>
<path d="M470.6 1250V1273M787.0 1250V1273M1218.4 1250V1273M1465.4 1250V1273M1711.7 1250V1273" stroke-width="5.2"/>
<path d="M312.5 1250V1262M628.6 1250V1262M1094.7 1250V1262M1341.4 1250V1262M1589.0 1250V1262" stroke-width="5.2"/>
<path d="M971.5 1246.5V1273" stroke-width="2.5"/>
<path d="M929.1 77.7L958.9 26.3M956.2 77.7L986 26.3" stroke-width="4.0"/>
<path d="M930 1272.5L958.6 1223M957.2 1272.5L986.6 1224" stroke-width="4.6"/>
</g>
<g id="arrows">
<line x1="749.3" y1="438.8" x2="787.7" y2="481.1" stroke="#000" stroke-width="3.2"/><polygon points="802.8,497.8 775.3,480.2 784.2,477.3 787.9,468.8" fill="#000"/>
<line x1="981.8" y1="447.6" x2="1037.1" y2="482.0" stroke="#000" stroke-width="3.2"/><polygon points="1056.2,493.9 1025.0,484.5 1032.7,479.3 1033.9,470.0" fill="#000"/>
<line x1="1041.0" y1="286.1" x2="1087.2" y2="332.1" stroke="#000" stroke-width="3.2"/><polygon points="1103.1,348.0 1074.8,331.8 1083.5,328.4 1086.8,319.7" fill="#000"/>
<line x1="1164.3" y1="237.0" x2="1191.0" y2="283.5" stroke="#000" stroke-width="3.2"/><polygon points="1202.2,303.0 1179.1,279.9 1188.4,279.0 1193.9,271.5" fill="#000"/>
<line x1="1306.9" y1="253.6" x2="1290.8" y2="294.5" stroke="#000" stroke-width="3.2"/><polygon points="1282.5,315.4 1286.2,283.0 1292.7,289.6 1302.0,289.2" fill="#000"/>
<line x1="1391.0" y1="174.6" x2="1418.5" y2="221.0" stroke="#000" stroke-width="3.2"/><polygon points="1430.0,240.4 1406.6,217.6 1415.9,216.6 1421.3,209.0" fill="#000"/>
<line x1="1721.3" y1="279.7" x2="1701.1" y2="243.0" stroke="#000" stroke-width="3.2"/><polygon points="1690.3,223.3 1712.9,246.8 1703.7,247.6 1698.0,255.0" fill="#000"/>
</g>
<g id="labels">
<text transform="translate(153.0 1336.2) scale(1.000 1.065)" font-size="61.1" text-anchor="middle" font-family="'Liberation Sans', Arial, Helvetica, sans-serif" font-weight="700" fill="#000">4000</text>
<text transform="translate(470.3 1336.2) scale(1.000 1.065)" font-size="61.1" text-anchor="middle" font-family="'Liberation Sans', Arial, Helvetica, sans-serif" font-weight="700" fill="#000">3500</text>
<text transform="translate(787.0 1336.2) scale(1.000 1.065)" font-size="61.1" text-anchor="middle" font-family="'Liberation Sans', Arial, Helvetica, sans-serif" font-weight="700" fill="#000">3000</text>
<text transform="translate(970.8 1336.2) scale(1.000 1.065)" font-size="61.1" text-anchor="middle" font-family="'Liberation Sans', Arial, Helvetica, sans-serif" font-weight="700" fill="#000">2000</text>
<text transform="translate(1218.9 1336.2) scale(1.000 1.065)" font-size="61.1" text-anchor="middle" font-family="'Liberation Sans', Arial, Helvetica, sans-serif" font-weight="700" fill="#000">1500</text>
<text transform="translate(1466.0 1336.2) scale(1.000 1.065)" font-size="61.1" text-anchor="middle" font-family="'Liberation Sans', Arial, Helvetica, sans-serif" font-weight="700" fill="#000">1000</text>
<text transform="translate(1711.0 1336.2) scale(1.000 1.065)" font-size="61.1" text-anchor="middle" font-family="'Liberation Sans', Arial, Helvetica, sans-serif" font-weight="700" fill="#000">500</text>
<text transform="translate(188.4 570.2) scale(1.000 1.044)" font-size="60.1" text-anchor="start" font-family="'Liberation Sans', Arial, Helvetica, sans-serif" font-weight="700" fill="#000">POSS-PI-30</text>
<text transform="translate(183.3 712.3) scale(1.000 1.044)" font-size="60.1" text-anchor="start" font-family="'Liberation Sans', Arial, Helvetica, sans-serif" font-weight="700" fill="#000">POSS-PI-25</text>
<text transform="translate(188.4 850.2) scale(1.000 1.044)" font-size="60.1" text-anchor="start" font-family="'Liberation Sans', Arial, Helvetica, sans-serif" font-weight="700" fill="#000">POSS-PI-20</text>
<text transform="translate(188.4 998.8) scale(1.000 1.044)" font-size="60.1" text-anchor="start" font-family="'Liberation Sans', Arial, Helvetica, sans-serif" font-weight="700" fill="#000">POSS-PI-15</text>
<text transform="translate(195.2 1157.6) scale(1.000 1.044)" font-size="60.1" text-anchor="start" font-family="'Liberation Sans', Arial, Helvetica, sans-serif" font-weight="700" fill="#000">POSS-PI-10</text>
<text transform="translate(690.8 419.0) scale(1.000 1.055)" font-size="54.8" text-anchor="middle" font-family="'Liberation Sans', Arial, Helvetica, sans-serif" font-weight="700" fill="#000">2953</text>
<text transform="translate(915.8 435.3) scale(1.000 1.055)" font-size="54.8" text-anchor="middle" font-family="'Liberation Sans', Arial, Helvetica, sans-serif" font-weight="700" fill="#000">1776</text>
<text transform="translate(967.8 275.3) scale(1.000 1.055)" font-size="54.8" text-anchor="middle" font-family="'Liberation Sans', Arial, Helvetica, sans-serif" font-weight="700" fill="#000">1717</text>
<text transform="translate(1110.3 208.0) scale(1.000 1.055)" font-size="54.8" text-anchor="middle" font-family="'Liberation Sans', Arial, Helvetica, sans-serif" font-weight="700" fill="#000">1499</text>
<text transform="translate(1305.0 224.8) scale(1.000 1.055)" font-size="54.8" text-anchor="middle" font-family="'Liberation Sans', Arial, Helvetica, sans-serif" font-weight="700" fill="#000">1375</text>
<text transform="translate(1379.7 150.5) scale(1.000 1.055)" font-size="54.8" text-anchor="middle" font-family="'Liberation Sans', Arial, Helvetica, sans-serif" font-weight="700" fill="#000">1086</text>
<text transform="translate(1638.7 215.1) scale(1.000 1.055)" font-size="54.8" text-anchor="middle" font-family="'Liberation Sans', Arial, Helvetica, sans-serif" font-weight="700" fill="#000">482</text>
<text transform="translate(664.6 1444.6) scale(1.000 1.020)" font-size="70.4" text-anchor="start" font-family="'Liberation Sans', Arial, Helvetica, sans-serif" font-weight="700" fill="#000">Wavenumber (cm</text>
<text transform="translate(1243.4 1407.6) scale(1.180 1.000)" font-size="38.0" text-anchor="start" font-family="'Liberation Sans', Arial, Helvetica, sans-serif" font-weight="400" fill="#000">−</text>
<text transform="translate(1266.5 1403.8) scale(1.000 1.000)" font-size="33.0" text-anchor="start" font-family="'Liberation Sans', Arial, Helvetica, sans-serif" font-weight="400" fill="#000">1</text>
<text transform="translate(1287.6 1444.6) scale(1.000 1.020)" font-size="70.4" text-anchor="start" font-family="'Liberation Sans', Arial, Helvetica, sans-serif" font-weight="700" fill="#000">)</text>
<text transform="translate(62.2 867.8) rotate(-90) scale(1.000 1.043)" font-size="67.2" text-anchor="start" font-family="'Liberation Sans', Arial, Helvetica, sans-serif" font-weight="700" fill="#000">Absorbance</text>
</g>
</svg>
</body>
</html>
